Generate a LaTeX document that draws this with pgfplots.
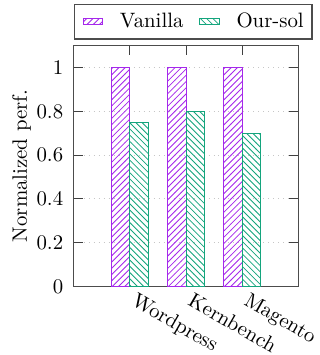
\documentclass[border=0pt]{standalone}
\usepackage{pgfplots}
\pgfplotsset{compat=1.18}
\usetikzlibrary{patterns}
\definecolor{cpurple}{RGB}{165,40,235}
\definecolor{cgreen}{RGB}{20,165,125}
\begin{document}
\begin{tikzpicture}
\begin{axis}[
  name=ax,
  scale only axis,
  width=108pt, height=115.6pt,
  ybar, bar width=0.33,
  xmin=-1, xmax=3,
  ymin=0, ymax=1.1,
  xtick={0,1,2},
  xticklabels={Wordpress,Kernbench,Magento},
  x tick label style={rotate=-30, anchor=north west, inner sep=0pt, xshift=4.5pt, yshift=-0.2pt},
  ytick={0,0.2,0.4,0.6,0.8,1},
  yticklabels={0,0.2,0.4,0.6,0.8,1},
  y tick label style={xshift=-1.5pt},
  tick pos=both, tick align=inside,
  major tick length=4.5pt,
  tick style={black!75, line width=0.5pt},
  ymajorgrids, grid style={dotted, gray!45},
  ylabel={Normalized perf.},
  ylabel style={at={(axis description cs:0,0.5)}, anchor=center, yshift=25pt},
  axis line style={black!70, line width=0.6pt},
  legend columns=2,
  legend style={at={(axis description cs:0,1)}, anchor=south west, yshift=3pt, draw=black!70, line width=0.6pt,
    inner xsep=4pt, inner ysep=2.5pt, nodes={inner xsep=0pt, inner ysep=1.5pt},
    /tikz/every odd column/.style={column sep=8pt},
    /tikz/every even column/.style={column sep=7.6pt}},
  legend image code/.code={\draw[#1, line width=0.4pt] (0pt,-1.4pt) rectangle (9.5pt,1.6pt);},
]
\addplot[draw=cpurple, pattern=north east lines, pattern color=cpurple, bar shift=-0.165] coordinates {(0,1) (1,1) (2,1)};
\addplot[draw=cgreen, pattern=north west lines, pattern color=cgreen, bar shift=0.165] coordinates {(0,0.75) (1,0.8) (2,0.7)};
\legend{Vanilla, Our-sol}
\end{axis}
\pgfresetboundingbox
\path[use as bounding box] ([xshift=-35.4pt,yshift=-33pt]ax.south west) rectangle ([xshift=10pt,yshift=22pt]ax.north east);
\end{tikzpicture}
\end{document}
